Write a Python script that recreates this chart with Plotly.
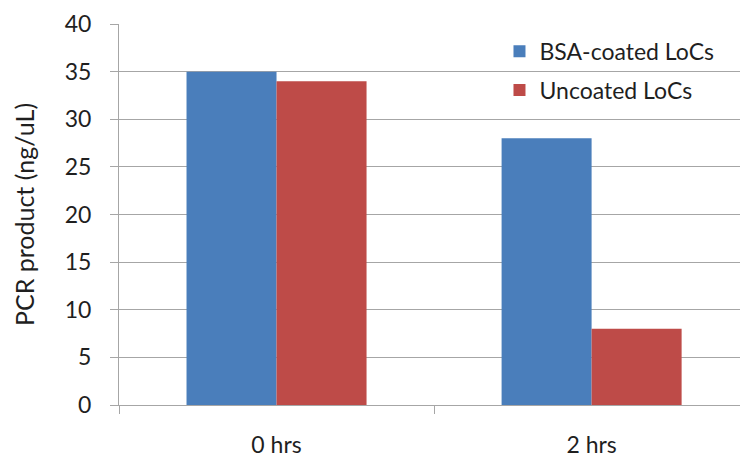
import plotly.graph_objects as go

# Data
categories = ["0 hrs", "2 hrs"]
bsa_coated = [35, 28]
uncoated = [34, 8]
series_names = ["BSA-coated LoCs", "Uncoated LoCs"]
y_ticks = [0, 5, 10, 15, 20, 25, 30, 35, 40]

BLUE = "#4A7EBB"
RED = "#BE4B48"
GRID = "#A6A6A6"
FONT = "Lato"

fig = go.Figure()
fig.add_trace(go.Bar(x=categories, y=bsa_coated, name=series_names[0],
                     marker=dict(color=BLUE, line=dict(width=0)),
                     legendgroup="a"))
fig.add_trace(go.Bar(x=categories, y=uncoated, name=series_names[1],
                     marker=dict(color=RED, line=dict(width=0)),
                     legendgroup="b"))

fig.update_layout(
    width=740, height=457,
    margin=dict(l=119, r=0, t=24, b=52, autoexpand=False),
    paper_bgcolor="white", plot_bgcolor="white",
    font=dict(family=FONT, size=23, color="#1f1f1f"),
    barmode="group", bargap=0.4286, bargroupgap=0,
    legend=dict(x=0.6127, y=0.985, xanchor="left", yanchor="top",
                traceorder="grouped", tracegroupgap=6,
                bgcolor="rgba(0,0,0,0)", font=dict(size=23),
                itemwidth=30),
    showlegend=True,
)
fig.update_xaxes(
    range=[-0.5, 1.471], tickson="boundaries",
    ticks="outside", ticklen=8, tickcolor=GRID, tickwidth=1,
    showline=True, linecolor=GRID, linewidth=1,
    showgrid=False, ticklabelstandoff=19,
)
fig.update_yaxes(
    range=[0, 40], tickvals=y_ticks,
    ticks="outside", ticklen=8, tickcolor=GRID, tickwidth=1,
    showline=True, linecolor=GRID, linewidth=1,
    showgrid=True, gridcolor=GRID, gridwidth=1, zeroline=False,
    ticklabelstandoff=14,
    title=dict(text="PCR product (ng/uL)", standoff=22, font=dict(size=25)),
)

fig.write_html("out.html")
